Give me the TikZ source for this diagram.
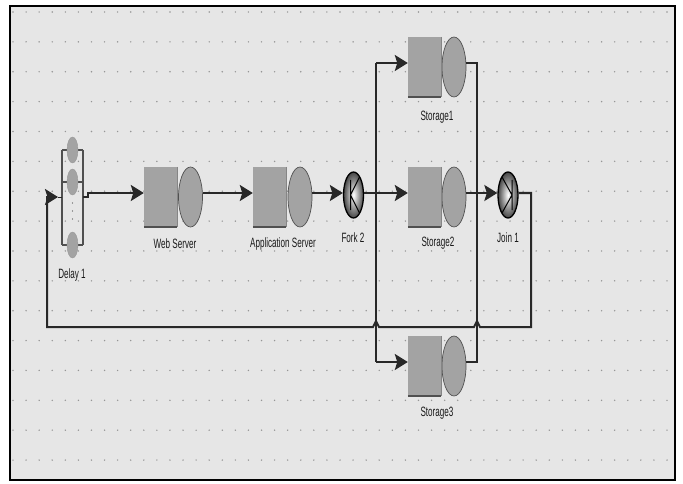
\documentclass[tikz,border=0pt]{standalone}
\usepackage{fontspec}
\setmainfont{Liberation Sans}
\usetikzlibrary{arrows.meta,shapes.geometric}
\definecolor{bgc}{RGB}{230,230,230}
\definecolor{boxc}{RGB}{163,163,163}
\definecolor{edgec}{RGB}{80,80,80}
\definecolor{linec}{RGB}{40,40,40}
\definecolor{dotc}{RGB}{150,150,150}
\begin{document}
\begin{tikzpicture}[x=1pt,y=-1pt,
  queuebox/.style={rectangle, fill=boxc, minimum width=33pt, minimum height=60pt, inner sep=0pt},
  serverell/.style={ellipse, fill=boxc, draw=edgec, line width=0.7pt, minimum width=24pt, minimum height=60pt, inner sep=0pt},
  delayell/.style={ellipse, fill=boxc, draw=gray!80, line width=0.4pt, minimum width=11pt, minimum height=26pt, inner sep=0pt},
  forkjoin/.style={ellipse, draw=black, line width=1.3pt, inner color=white, outer color=gray!55!black, minimum width=20pt, minimum height=46pt, inner sep=0pt},
  flow/.style={draw=linec, line width=2pt},
  arr/.style={flow, -{Stealth[length=13pt,width=16pt,inset=2.5pt]}},
  rail/.style={draw=edgec, line width=1.1pt},
  lbl/.style={font=\fontsize{13.5}{14}\selectfont, text=black!90, xscale=0.6, inner sep=0pt},
]
\useasboundingbox (0,0) rectangle (683,484);
\fill[white] (0,0) rectangle (683,484);
\draw[fill=bgc, line width=1.6pt] (10,6) rectangle (675,480);
% dot grid
\foreach \i in {0,...,50} {
  \foreach \j in {0,...,15} {
    \fill[dotc] ({13+13.08*\i},{12+29.87*\j}) circle (0.8pt);
  }
}
% helper coordinates
\coordinate (m) at (0,193);
\coordinate (r1) at (0,63);
\coordinate (r3) at (0,362);
% Delay 1
\draw[rail] (62,150) -- (62,245) (83,150) -- (83,245)
  (62,150) -- (83,150) (62,182) -- (83,182) (62,245) -- (83,245);
\node[delayell] (d1) at (72.5,150) {};
\node[delayell] (d2) at (72.5,182) {};
\node[delayell] (d3) at (72.5,245) {};
\foreach \yy in {203,211,219} \fill[edgec] (72.5,\yy) circle (0.7pt);
\coordinate (din) at (62,197);
\coordinate (dout) at (83,197);
\node[lbl] (dl) at (72,275) {Delay 1};
% Web Server
\node[queuebox] (wq) at (160.5,197) {};
\node[serverell] (ws) at (190.5,197) {};
\node[lbl] (wl) at (175,244) {Web Server};
% Application Server
\node[queuebox] (aq) at (269.5,197) {};
\node[serverell] (as) at (300,197) {};
\node[lbl] (al) at (283,244) {Application Server};
% Fork 2
\node[forkjoin] (fork) at (353.5,195) {};
\draw[black, line width=1pt, shift={(fork.center)}] (-3,-15) -- (-3,15) (-3,0) -- (6,-18) (-3,0) -- (6,18);
\node[lbl] (fl) at (353,238) {Fork 2};
% Storages
\node[queuebox] (s1q) at (424.5,67) {};
\node[serverell] (s1s) at (454,67) {};
\node[lbl] (s1l) at (437,117) {Storage1};
\node[queuebox] (s2q) at (424.5,197) {};
\node[serverell] (s2s) at (454,197) {};
\node[lbl] (s2l) at (438,243) {Storage2};
\node[queuebox] (s3q) at (424.5,366) {};
\node[serverell] (s3s) at (454,366) {};
\node[lbl] (s3l) at (437,413) {Storage3};
\foreach \q in {wq,aq,s1q,s2q,s3q} {
  \draw[edgec, line width=1.5pt] (\q.south west) -- (\q.south east);
  \draw[edgec!70, line width=0.6pt] (\q.north east) -- (\q.south east);
}
% Join 1
\node[forkjoin] (join) at (508,195) {};
\draw[black, line width=1pt, shift={(join.center)}] (4,-15) -- (4,15) (4,0) -- (-6,-18) (4,0) -- (-6,18);
\node[lbl] (jl) at (508,238) {Join 1};
% bus coordinates
\coordinate (bl1) at (376,63);
\coordinate (bl2) at (376,193);
\coordinate (bl3) at (376,362);
\coordinate (br1) at (477,63);
\coordinate (br2) at (477,193);
\coordinate (br3) at (477,362);
% connectors
\draw[arr] (dout) -- (88,197) -- (88,193) -- (wq.west |- m);
\draw[arr] (ws.east |- m) -- (aq.west |- m);
\draw[arr] (as.east |- m) -- (fork.west |- m);
\draw[flow] (fork.east |- m) -- (bl2);
\draw[flow, line width=1.4pt] (bl1) -- (bl3);
\draw[arr] (bl1) -- (s1q.west |- r1);
\draw[arr] (bl2) -- (s2q.west |- m);
\draw[arr] (bl3) -- (s3q.west |- r3);
\draw[flow, line width=1.4pt] (s1s.east |- r1) -- (br1) -- (br3) -- (s3s.east |- r3);
\draw[arr] (s2s.east |- m) -- (join.west |- m);
\coordinate (jo) at (531,193);
\coordinate (rb) at (531,327);
\coordinate (lb) at (47,327);
\coordinate (lt) at (47,197);
\draw[arr] (join.east |- m) -- (jo) -- (rb) -- (480,327) -- (477,321) -- (474,327)
  -- (379,327) -- (376,321) -- (373,327) -- (lb) -- (lt) -- (58,197);
\draw[flow, line width=1pt] (58,197) -- (din);
\end{tikzpicture}
\end{document}
